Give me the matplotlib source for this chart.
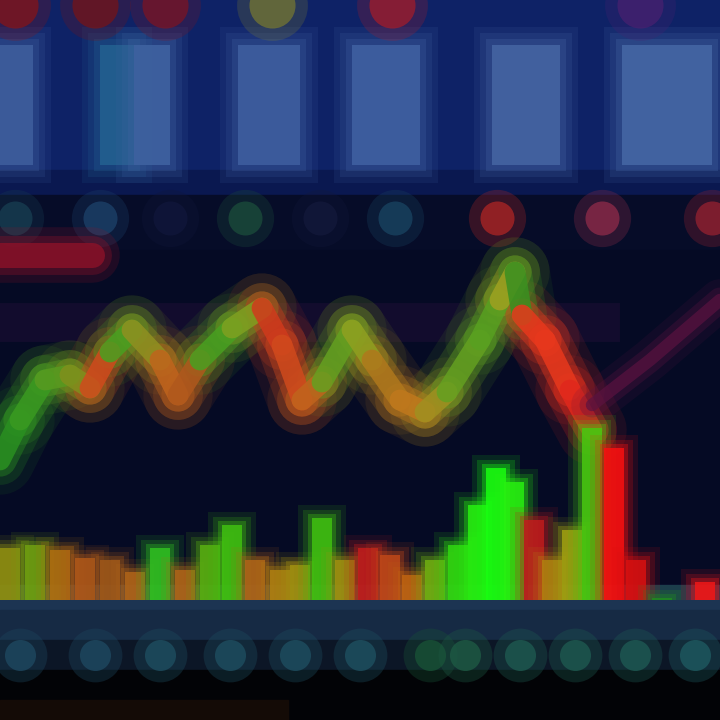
import numpy as np
import matplotlib
matplotlib.use('Agg')
import matplotlib.pyplot as plt
from matplotlib.collections import LineCollection

# top panel: light blue columns (x start, x end, colour)
col_left = [-10, 100, 134, 238, 352, 492, 622]
col_right = [33, 134, 170, 300, 420, 560, 712]
col_colors = ['#3e5e9c', '#236090', '#3f62a0', '#3e5e9e', '#3f60a0', '#4464a2', '#4466a4']

# little blobs along the very top
top_x = [15, 95, 165, 272, 392, 640]
top_colors = ['#8a1414', '#7a1414', '#801420', '#7a7a30', '#a81c28', '#4a2070']

# row of dots under the table
dot_x = [15, 100, 170, 245, 320, 395, 497, 602, 712]
dot_colors = ['#173c50', '#1c4068', '#10163a', '#1a4a3a', '#13183a', '#184260', '#a82424', '#8a2a48', '#902030']

# price line
price_x = [0, 20, 45, 70, 90, 110, 132, 160, 178, 200, 232, 262, 282, 302, 322, 352, 372, 400, 425, 447, 480, 500, 515, 522, 545, 570, 592]
price_y = [460, 420, 380, 375, 388, 352, 330, 360, 395, 360, 328, 308, 345, 400, 382, 330, 360, 400, 412, 392, 340, 300, 272, 315, 340, 390, 430]
price_c = ['#2a9020', '#3a9a20', '#589a20', '#80901c', '#d04a1c', '#48a020', '#909020', '#c0641c', '#b0581c',
           '#48a020', '#80a020', '#d03a1c', '#d04a1c', '#c0641c', '#64a020', '#90a020', '#b0781c', '#c0781c',
           '#a09020', '#64a020', '#58a020', '#a0a020', '#3a9020', '#e8381c', '#e8381c', '#e0281c']

# purple line to the right
purple_x = [592, 650, 720]
purple_y = [405, 360, 300]

# volume bars
vol_x = [10, 35, 60, 85, 110, 135, 160, 185, 210, 232, 255, 280, 300, 322, 345, 368, 390, 412, 435, 458, 478, 496, 514, 534, 552, 572, 592, 614, 636, 662, 705]
vol_top = [548, 545, 550, 558, 560, 572, 548, 570, 545, 525, 560, 570, 565, 518, 560, 548, 555, 575, 560, 545, 505, 468, 482, 520, 560, 530, 428, 448, 560, 598, 582]
vol_c = ['#909010', '#70a010', '#b07010', '#b05818', '#a05818', '#b06418', '#30c020', '#b06418', '#58b010', '#40c010',
         '#b06418', '#b08010', '#a09010', '#40c010', '#a09010', '#c01c1c', '#c04818', '#c06410', '#70b010', '#30d810',
         '#28f010', '#18ff10', '#28f010', '#c01c1c', '#b08010', '#a0a010', '#48c810', '#f81010', '#d81010', '#208a20',
         '#f01818']

# dots along the bottom strip
bdot_x = [20, 95, 160, 230, 295, 360, 430, 465, 520, 575, 635, 695]
bdot_c = ['#1e4860', '#1e4860', '#1e4e60', '#1e4e60', '#1e4e60', '#1e5060', '#185236', '#1e5a44', '#1e5a50', '#1e5a50', '#1e5a54', '#1e5a60']

fig = plt.figure(figsize=(7.2, 7.2), dpi=100)
ax = fig.add_axes([0, 0, 1, 1])
ax.set_xlim(0, 720)
ax.set_ylim(720, 0)
ax.axis('off')
fig.patch.set_facecolor('#050a26')

# backgrounds
ax.axhspan(0, 180, color='#0e2266', zorder=0)
ax.axhspan(170, 195, color='#0a1850', zorder=0)
ax.axhspan(195, 250, color='#060c28', zorder=0)
ax.axhspan(250, 590, color='#050a24', zorder=0)
ax.axhspan(585, 610, color='#1c3452', zorder=0)
ax.axhspan(610, 640, color='#162a44', zorder=0)
ax.axhspan(640, 670, color='#0c1626', zorder=0)
ax.axhspan(670, 720, color='#020306', zorder=0)
ax.axhspan(700, 720, xmin=0, xmax=0.4, color='#140b06', zorder=0)

# faint purple wash
ax.plot([0, 600], [322, 322], color='#3a1448', lw=28, alpha=0.25, zorder=1)

# table columns with soft edges
for l, r, c in zip(col_left, col_right, col_colors):
    for grow, a in [(18, 0.15), (12, 0.2), (6, 0.3), (0, 0.9)]:
        ax.fill_between([l - grow, r + grow], 45 - grow, 165 + grow, color=c, alpha=a, lw=0, zorder=2)

for x, c in zip(top_x, top_colors):
    ax.scatter([x], [5], s=2600, color=c, alpha=0.25, lw=0, zorder=3)
    ax.scatter([x], [5], s=1100, color=c, alpha=0.7, lw=0, zorder=3)

for x, c in zip(dot_x, dot_colors):
    ax.scatter([x], [218], s=1700, color=c, alpha=0.3, lw=0, zorder=3)
    ax.scatter([x], [218], s=600, color=c, alpha=0.8, lw=0, zorder=3)

# red label bar at left
for lw, a in [(40, 0.2), (28, 0.35), (18, 0.8)]:
    ax.plot([0, 92], [255, 255], color='#8c1228', lw=lw, alpha=a, solid_capstyle='round', zorder=3)

# price line drawn as glowing coloured segments
pts = np.column_stack([price_x, price_y])
segs = np.stack([pts[:-1], pts[1:]], axis=1)
for lw, a in [(50, 0.1), (36, 0.2), (24, 0.4), (15, 0.85)]:
    lc = LineCollection(segs, colors=price_c, linewidths=lw, alpha=a, capstyle='round', zorder=4)
    ax.add_collection(lc)

for lw, a in [(30, 0.15), (18, 0.3), (9, 0.7)]:
    ax.plot(purple_x, purple_y, color='#5a1240', lw=lw, alpha=a, solid_capstyle='round', zorder=4)

# volume bars with glow
for x, t, c in zip(vol_x, vol_top, vol_c):
    for w, a in [(48, 0.12), (38, 0.2), (28, 0.35), (20, 0.85)]:
        g = (w - 20) * 0.45
        ax.bar(x, 600 - t + g, bottom=t - g, width=w, color=c, alpha=a, lw=0, zorder=5)

# bottom strip dots
for x, c in zip(bdot_x, bdot_c):
    ax.scatter([x], [655], s=1500, color=c, alpha=0.35, lw=0, zorder=6)
    ax.scatter([x], [655], s=500, color=c, alpha=0.8, lw=0, zorder=6)

fig.savefig('out.png', dpi=100, facecolor=fig.get_facecolor())
